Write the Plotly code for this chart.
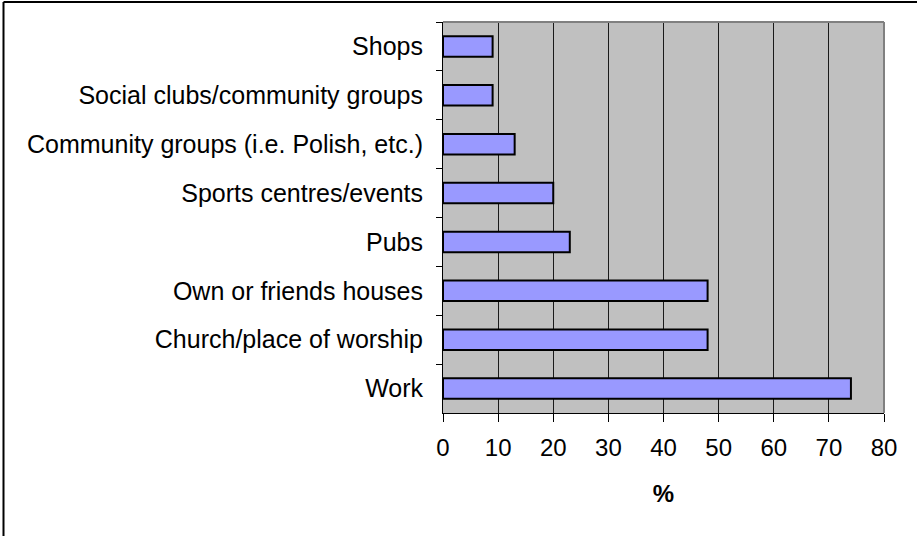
import plotly.graph_objects as go

categories = ["Shops", "Social clubs/community groups", "Community groups (i.e. Polish, etc.)",
              "Sports centres/events", "Pubs", "Own or friends houses",
              "Church/place of worship", "Work"]
values = [9, 9, 13, 20, 23, 48, 48, 74]
x_ticks = [0, 10, 20, 30, 40, 50, 60, 70, 80]

W, H = 917, 536
L, R, T, B = 443, 33, 22, 123
pw = W - L - R
ph = H - T - B

def px_x(p):
    return (p - L) / pw

def px_y(p):
    return (H - B - p) / ph

fig = go.Figure(go.Bar(
    x=values, y=categories, orientation="h", width=0.42,
    marker=dict(color="#9999ff", line=dict(color="#000000", width=2)),
))

family = "Liberation Sans, Arial, sans-serif"
font = dict(family=family, size=24, color="#000000")

fig.update_layout(
    width=W, height=H,
    margin=dict(l=L, r=R, t=T, b=B, pad=0),
    paper_bgcolor="#ffffff", plot_bgcolor="#c0c0c0",
    showlegend=False, font=font, bargap=0.58,
    xaxis=dict(range=[0, 80], tickvals=x_ticks, ticks="outside", ticklen=8, tickwidth=1,
               tickcolor="#000000", showline=True, linecolor="#000000", linewidth=1,
               showgrid=True, gridcolor="#1a1a1a", gridwidth=1, zeroline=False,
               tickfont=font, ticklabelstandoff=5,
               title=dict(text="<b>%</b>", font=dict(family=family, size=24, color="#000000"),
                          standoff=25),
               fixedrange=True),
    yaxis=dict(autorange="reversed", type="category", ticks="outside", tickson="boundaries",
               ticklen=6, tickwidth=1, tickcolor="#000000", showline=True, linecolor="#000000",
               linewidth=1, showgrid=False,
               tickfont=dict(family=family, size=25, color="#000000"), ticklabelstandoff=14,
               fixedrange=True),
)

# plot-area frame (grey, top and right)
fig.add_shape(type="line", xref="paper", yref="paper", x0=0, x1=1, y0=1, y1=1,
              line=dict(color="#808080", width=2))
fig.add_shape(type="line", xref="paper", yref="paper", x0=1, x1=1, y0=0, y1=1,
              line=dict(color="#808080", width=2))
# outer chart frame (left and top edges)
fig.add_shape(type="line", xref="paper", yref="paper", x0=px_x(3.5), x1=px_x(3.5),
              y0=px_y(2), y1=px_y(H + 10), line=dict(color="#000000", width=2))
fig.add_shape(type="line", xref="paper", yref="paper", x0=px_x(3.5), x1=px_x(W + 10),
              y0=px_y(2), y1=px_y(2), line=dict(color="#000000", width=2))

fig.write_html("out.html", config={"displayModeBar": False},
               post_script="document.body.style.margin='0';document.body.style.overflow='hidden';")
